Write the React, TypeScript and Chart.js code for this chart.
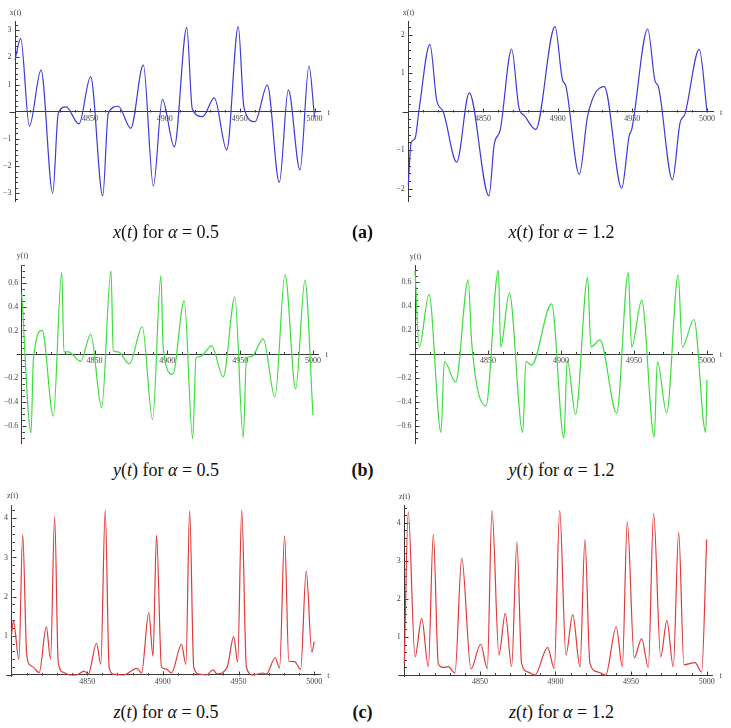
import React, { useEffect, useRef } from "react";
import { Chart, registerables } from "chart.js";

Chart.register(...registerables);

// ---------- tick labels ----------
const tTickLabels = [4850, 4900, 4950, 5000];
const xTickLabels05 = [-3, -2, -1, 1, 2, 3];
const xTickLabels12 = [-2, -1, 1, 2];
const yTickLabels = [-0.6, -0.4, -0.2, 0.2, 0.4, 0.6];
const zTickLabels = [1, 2, 3, 4];

const T_START = 4800;
const T_PAD = 4; // axis extends this far beyond the data on the left
const T_MAX = 5004;

// ---------- x(t), alpha = 0.5 ----------
const tX05 = [4800, 4803.8, 4809.6, 4817.4, 4825.2, 4828.9, 4834.1, 4842.7, 4850.5, 4858.6, 4862.3, 4869.0, 4877.3, 4885.7, 4892.4, 4898.4, 4906.4, 4914.7, 4918.4, 4925.3, 4933.1, 4941.4, 4949.1, 4952.9, 4960.3, 4968.5, 4976.5, 4982.5, 4990.3, 4996.3, 5000];
const vX05 = [1.9, 2.7, -0.53, 1.53, -3.0, -0.06, 0.18, -0.45, 1.29, -3.1, -0.06, 0.2, -0.61, 1.72, -2.73, 0.45, -1.29, 3.1, 0.1, -0.18, 0.51, -1.41, 3.13, 0.15, -0.37, 0.98, -2.6, 0.8, -2.14, 1.68, -0.2];

// ---------- x(t), alpha = 1.2 ----------
const tX12 = [4800, 4801.8, 4804.5, 4807.2, 4814.5, 4819.0, 4823.4, 4832.4, 4840.8, 4854.0, 4857.6, 4861.4, 4869.2, 4874.1, 4877.7, 4885.3, 4898.2, 4903.1, 4905.6, 4914.5, 4920.1, 4931.2, 4942.9, 4947.8, 4949.6, 4960.3, 4965.2, 4967.4, 4976.8, 4981.9, 4985.3, 4994.8, 5000];
const vX12 = [-1.9, -0.82, -0.7, 0.05, 1.75, 0.3, 0.0, -1.31, 0.49, -2.19, -0.83, -0.5, 1.63, 0.1, -0.1, -0.46, 2.21, 0.85, 0.65, -1.63, -0.1, 0.65, -1.99, -0.64, -0.46, 2.15, 0.8, 0.66, -1.77, -0.3, -0.05, 1.62, 0.0];

// ---------- y(t), alpha = 0.5 ----------
const tY05 = [4800, 4806.4, 4808.0, 4814.1, 4821.7, 4827.5, 4829.0, 4832.0, 4840.5, 4847.4, 4854.9, 4861.3, 4862.9, 4866.3, 4873.9, 4882.8, 4889.9, 4895.6, 4897.2, 4903.7, 4911.6, 4917.4, 4919.7, 4922.4, 4930.4, 4938.4, 4946.4, 4952.1, 4954.4, 4957.9, 4965.8, 4973.9, 4980.8, 4988.1, 4994.5, 5000];
const vY05 = [0.51, -0.66, -0.05, 0.2, -0.52, 0.69, 0.02, 0.02, -0.06, 0.17, -0.45, 0.7, 0.03, 0.02, -0.08, 0.23, -0.55, 0.66, 0.05, -0.17, 0.45, -0.71, -0.03, -0.02, 0.07, -0.19, 0.48, -0.7, -0.03, -0.02, 0.13, -0.36, 0.67, -0.29, 0.62, -0.51];

// ---------- y(t), alpha = 1.2 ----------
const tY12 = [4800, 4802.9, 4809.6, 4817.8, 4820.1, 4827.9, 4836.5, 4838.8, 4848.6, 4857.1, 4858.7, 4864.6, 4873.8, 4876.0, 4879.9, 4893.6, 4902.0, 4904.3, 4910.0, 4918.3, 4920.5, 4926.7, 4938.2, 4946.1, 4948.4, 4955.3, 4963.9, 4966.0, 4972.4, 4980.3, 4983.1, 4991.1, 4999.1, 5000];
const vY12 = [0.7, 0.06, 0.5, -0.65, -0.06, -0.23, 0.62, 0.1, -0.43, 0.7, 0.06, 0.51, -0.65, -0.06, -0.09, 0.42, -0.7, -0.05, -0.5, 0.64, 0.06, 0.12, -0.49, 0.68, 0.06, 0.45, -0.69, -0.06, -0.49, 0.66, 0.06, 0.29, -0.65, -0.21];

// ---------- z(t), alpha = 0.5 ----------
const tZ05 = [4800, 4801.2, 4804.9, 4807.4, 4810.0, 4812.2, 4814.4, 4818.3, 4823.0, 4825.8, 4828.5, 4830.9, 4834.2, 4838.6, 4843.0, 4848.0, 4850.7, 4856.2, 4859.0, 4861.9, 4864.5, 4867.2, 4873.7, 4883.0, 4885.9, 4890.7, 4893.5, 4895.8, 4899.1, 4902.4, 4905.7, 4912.3, 4915.2, 4917.7, 4920.4, 4924.3, 4928.8, 4933.1, 4935.8, 4942.5, 4946.8, 4949.4, 4952.1, 4955.2, 4959.5, 4966.1, 4968.3, 4974.2, 4977.1, 4980.4, 4983.2, 4987.0, 4991.0, 4994.7, 4998.4, 5000];
const vZ05 = [1.0, 1.39, 0.4, 3.59, 0.55, 0.25, 0.2, 0.06, 1.23, 0.4, 4.04, 0.3, 0.07, 0.0, 0.0, 0.1, 0.02, 0.81, 0.27, 4.21, 0.2, 0.02, 0.0, 0.17, 0.05, 1.59, 0.48, 3.57, 0.2, 0.15, 0.05, 0.78, 0.27, 4.19, 0.2, 0.02, 0.0, 0.13, 0.03, 0.2, 0.98, 0.32, 4.21, 0.2, 0.0, 0.05, 0.02, 0.44, 0.18, 3.55, 0.35, 0.34, 0.14, 2.66, 0.58, 0.85];

// ---------- z(t), alpha = 1.2 ----------
const tZ12 = [4800, 4802.6, 4807.1, 4811.5, 4815.9, 4819.2, 4822.5, 4825.8, 4829.1, 4833.5, 4838.0, 4844.1, 4850.5, 4854.9, 4858.0, 4862.6, 4866.8, 4871.0, 4874.5, 4877.6, 4882.0, 4886.4, 4894.8, 4899.2, 4902.8, 4906.9, 4911.4, 4916.2, 4919.5, 4922.8, 4928.3, 4933.2, 4940.2, 4944.2, 4947.5, 4952.1, 4957.0, 4961.4, 4964.9, 4969.6, 4973.7, 4977.9, 4981.5, 4985.0, 4992.3, 4996.7, 5000];
const vZ12 = [0.3, 4.29, 0.48, 1.49, 0.22, 3.7, 0.3, 0.2, 0.22, 0.05, 3.08, 0.16, 0.81, 0.17, 4.33, 0.53, 1.62, 0.22, 3.5, 0.3, 0.08, 0.0, 0.73, 0.17, 4.33, 0.53, 1.59, 0.22, 3.56, 0.3, 0.08, 0.0, 1.27, 0.22, 4.03, 0.45, 0.96, 0.2, 4.25, 0.48, 1.43, 0.22, 3.75, 0.27, 0.33, 0.08, 3.56];

// ---------- styling ----------
const SERIF = '"Liberation Serif", "Times New Roman", "DejaVu Serif", serif';
const AXIS = "#3a3a3a";
const LABEL = "#444444";
const BLUE = "#3b3bd9";
const GREEN = "#3fdc3f";
const RED = "#e03a3a";

const fmt = (v: number) => {
  const r = Math.round(v * 100) / 100;
  return r < 0 ? "\u2212" + String(Math.abs(r)) : String(r);
};

type Spec = {
  t: number[];
  v: number[];
  color: string;
  name: string;
  yTicks: number[];
  major: number;
  minor: number;
  yMin: number;
  yMax: number;
  box: { left: number; top: number; width: number; height: number };
  area: { left: number; right: number; top: number; bottom: number };
};

const decor = {
  id: "decor",
  beforeDatasetsDraw(chart: any, _args: any, opts: any) {
    const { ctx } = chart;
    const xs = chart.scales.x;
    const ys = chart.scales.y;
    const y0 = Math.round(ys.getPixelForValue(0)) + 0.5;
    const xa = Math.round(xs.getPixelForValue(T_START)) + 0.5;
    const pxPerT = xs.getPixelForValue(T_START + 1) - xs.getPixelForValue(T_START);
    ctx.save();
    ctx.strokeStyle = AXIS;
    ctx.lineWidth = 1;
    ctx.beginPath();
    // left extension of the horizontal axis (plot range padding)
    ctx.moveTo(xa - T_PAD * pxPerT, y0);
    ctx.lineTo(xa, y0);
    for (let k = 1; k <= 20; k++) {
      const t = T_START + k * 10;
      const px = Math.round(xs.getPixelForValue(t)) + 0.5;
      const len = k % 5 === 0 ? 4 : 2.5;
      ctx.moveTo(px, y0);
      ctx.lineTo(px, y0 - len);
    }
    const step = opts.minor;
    const major = opts.major;
    const i0 = Math.ceil(ys.min / step - 1e-9);
    const i1 = Math.floor(ys.max / step + 1e-9);
    for (let i = i0; i <= i1; i++) {
      if (i === 0) continue;
      const v = i * step;
      const q = v / major;
      const isMajor = Math.abs(q - Math.round(q)) < 1e-6;
      const py = Math.round(ys.getPixelForValue(v)) + 0.5;
      ctx.moveTo(xa, py);
      ctx.lineTo(xa + (isMajor ? 4 : 2.5), py);
    }
    ctx.stroke();
    ctx.fillStyle = LABEL;
    ctx.font = `8px ${SERIF}`;
    ctx.textAlign = "center";
    ctx.textBaseline = "middle";
    ctx.fillText(opts.name, xa, ys.top - 9);
    ctx.fillText("t", xs.right + 8, y0);
    ctx.restore();
  },
};

function Plot({ spec }: { spec: Spec }) {
  const ref = useRef<HTMLCanvasElement>(null);
  useEffect(() => {
    const canvas = ref.current;
    if (!canvas) return;
    const { box, area } = spec;
    const leftRoom = area.left - box.left;
    const chart = new Chart(canvas, {
      type: "line",
      data: {
        datasets: [
          {
            data: spec.t.map((x, i) => ({ x, y: spec.v[i] })),
            borderColor: spec.color,
            borderWidth: 1.2,
            pointRadius: 0,
            fill: false,
            cubicInterpolationMode: "monotone",
            clip: 4,
          } as any,
        ],
      },
      options: {
        animation: false,
        responsive: false,
        maintainAspectRatio: false,
        events: [],
        layout: {
          padding: {
            left: 0,
            right: box.left + box.width - area.right,
            top: area.top - box.top,
            bottom: box.top + box.height - area.bottom,
          },
        },
        plugins: {
          legend: { display: false },
          tooltip: { enabled: false },
          decor: { name: spec.name, minor: spec.minor, major: spec.major },
        } as any,
        scales: {
          x: {
            type: "linear",
            min: T_START,
            max: T_MAX,
            position: { y: 0 } as any,
            grid: { display: false, drawTicks: false },
            border: { display: true, color: AXIS, width: 1 },
            ticks: {
              autoSkip: false,
              maxRotation: 0,
              padding: 2,
              color: LABEL,
              font: { family: SERIF, size: 8 },
              callback: (v: any) => String(v),
            },
            afterBuildTicks: (sc: any) => {
              sc.ticks = tTickLabels.map((value) => ({ value }));
            },
            afterFit: (sc: any) => {
              sc.height = 0;
            },
          },
          y: {
            type: "linear",
            min: spec.yMin,
            max: spec.yMax,
            position: "left",
            grid: { display: false, drawTicks: false },
            border: { display: true, color: AXIS, width: 1 },
            ticks: {
              autoSkip: false,
              padding: 3.5,
              color: LABEL,
              font: { family: SERIF, size: 8 },
              callback: (v: any) => fmt(Number(v)),
            },
            afterBuildTicks: (sc: any) => {
              sc.ticks = spec.yTicks.map((value) => ({ value }));
            },
            afterFit: (sc: any) => {
              sc.width = leftRoom;
            },
          },
        },
      } as any,
      plugins: [decor],
    });
    return () => chart.destroy();
  }, [spec]);
  const { box } = spec;
  return (
    <canvas
      ref={ref}
      width={box.width}
      height={box.height}
      style={{
        position: "absolute",
        left: box.left,
        top: box.top,
        width: box.width,
        height: box.height,
      }}
    />
  );
}

const specs: Spec[] = [
  {
    t: tX05, v: vX05, color: BLUE, name: "x(t)", yTicks: xTickLabels05, major: 1, minor: 0.2,
    yMin: -3.31, yMax: 3.31,
    box: { left: 0, top: 0, width: 365, height: 215 },
    area: { left: 15, right: 320.5, top: 21.7, bottom: 201.7 },
  },
  {
    t: tX12, v: vX12, color: BLUE, name: "x(t)", yTicks: xTickLabels12, major: 1, minor: 0.2,
    yMin: -2.34, yMax: 2.34,
    box: { left: 365, top: 0, width: 366, height: 215 },
    area: { left: 408.3, right: 713, top: 21.7, bottom: 201.7 },
  },
  {
    t: tY05, v: vY05, color: GREEN, name: "y(t)", yTicks: yTickLabels, major: 0.2, minor: 0.05,
    yMin: -0.748, yMax: 0.75,
    box: { left: 0, top: 240, width: 365, height: 215 },
    area: { left: 21.7, right: 318.8, top: 265, bottom: 443.3 },
  },
  {
    t: tY12, v: vY12, color: GREEN, name: "y(t)", yTicks: yTickLabels, major: 0.2, minor: 0.05,
    yMin: -0.74, yMax: 0.74,
    box: { left: 365, top: 240, width: 366, height: 215 },
    area: { left: 415, right: 712.8, top: 265.5, bottom: 443.1 },
  },
  {
    t: tZ05, v: vZ05, color: RED, name: "z(t)", yTicks: zTickLabels, major: 1, minor: 0.2,
    yMin: -0.044, yMax: 4.34,
    box: { left: 0, top: 482, width: 365, height: 212 },
    area: { left: 11.5, right: 320.3, top: 505, bottom: 676.7 },
  },
  {
    t: tZ12, v: vZ12, color: RED, name: "z(t)", yTicks: zTickLabels, major: 1, minor: 0.2,
    yMin: -0.045, yMax: 4.45,
    box: { left: 365, top: 482, width: 366, height: 212 },
    area: { left: 404.3, right: 712.7, top: 505.7, bottom: 676.8 },
  },
];

function Caption({ cx, baseline, bold, children }: { cx: number; baseline: number; bold?: boolean; children: React.ReactNode }) {
  return (
    <div
      style={{
        position: "absolute",
        left: cx,
        top: baseline - 15,
        transform: "translateX(-50%)",
        whiteSpace: "nowrap",
        fontFamily: SERIF,
        fontSize: 18,
        lineHeight: "18px",
        fontWeight: bold ? "bold" : "normal",
        color: "#111",
      }}
    >
      {children}
    </div>
  );
}

const Cap = ({ v, a }: { v: string; a: string }) => (
  <>
    <i>{v}</i>(<i>t</i>) for <i>α</i> = {a}
  </>
);

export default function App() {
  const rows = [
    { v: "x", mark: "(a)", base: 238 },
    { v: "y", mark: "(b)", base: 476 },
    { v: "z", mark: "(c)", base: 718 },
  ];
  return (
    <div
      style={{
        position: "absolute",
        left: 0,
        top: 0,
        width: 731,
        height: 728,
        background: "#ffffff",
        overflow: "hidden",
      }}
    >
      {specs.map((s, i) => (
        <Plot key={i} spec={s} />
      ))}
      {rows.map((r) => (
        <React.Fragment key={r.v}>
          <Caption cx={166} baseline={r.base}>
            <Cap v={r.v} a="0.5" />
          </Caption>
          <Caption cx={362.5} baseline={r.base} bold>
            {r.mark}
          </Caption>
          <Caption cx={561.5} baseline={r.base}>
            <Cap v={r.v} a="1.2" />
          </Caption>
        </React.Fragment>
      ))}
    </div>
  );
}
